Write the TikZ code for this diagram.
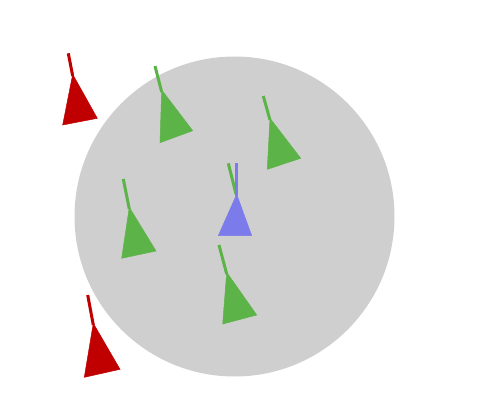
\documentclass[tikz,border=0pt]{standalone}
\definecolor{bggray}{RGB}{207,207,207}
\definecolor{agred}{RGB}{192,0,0}
\definecolor{aggreen}{RGB}{92,180,72}
\definecolor{agblue}{RGB}{123,123,235}
\tikzset{
  stem/.style={line width=3pt},
  redag/.style={fill=agred, draw=agred, line width=0.5pt},
  greenag/.style={fill=aggreen, draw=aggreen, line width=0.5pt},
  blueag/.style={fill=agblue, draw=agblue, line width=0.5pt},
}
\begin{document}
\begin{tikzpicture}[x=1pt,y=-1pt]
\useasboundingbox (0,0) rectangle (490,401);
\fill[bggray] (234.5,216.5) circle (160);
% red agents
\draw[stem, agred] (68.3,53.3) -- (72.7,76);
\filldraw[redag] (72.7,74.3) -- (62.7,125) -- (97.3,118.3) -- cycle;
\draw[stem, agred] (87.7,295) -- (93.3,325);
\filldraw[redag] (93.3,323.3) -- (84.3,377.3) -- (120,369.3) -- cycle;
% green agents
\draw[stem, aggreen] (155,66) -- (161.7,92);
\filldraw[greenag] (161.7,90) -- (160,142.7) -- (192.7,130.7) -- cycle;
\draw[stem, aggreen] (263.3,96) -- (270,120);
\filldraw[greenag] (270,118.3) -- (267.3,169.3) -- (300.7,158.3) -- cycle;
\draw[stem, aggreen] (123.3,179) -- (129.3,209);
\filldraw[greenag] (129.3,207.3) -- (121.7,258.3) -- (156,251) -- cycle;
\draw[stem, aggreen] (219,245) -- (226.7,274);
\filldraw[greenag] (226.7,272.3) -- (222.7,324) -- (256.7,315) -- cycle;
\draw[stem, aggreen] (228.3,163.3) -- (236,194);
% blue agent
\draw[stem, agblue] (236.7,163.3) -- (236.7,196);
\filldraw[blueag] (236.7,194.3) -- (218.3,235.7) -- (251.7,235.7) -- cycle;
\end{tikzpicture}
\end{document}
